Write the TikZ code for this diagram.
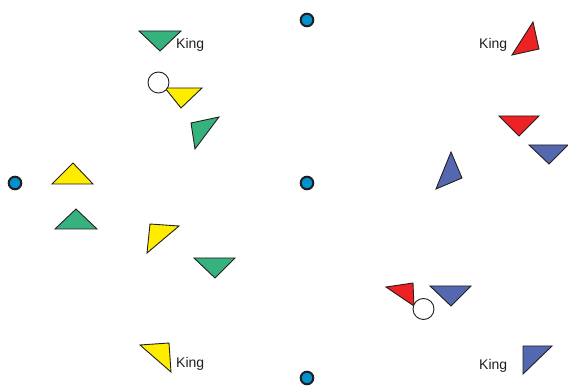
\documentclass[tikz,border=0pt]{standalone}
\usepackage{fontspec}
\setmainfont{Liberation Sans}
\definecolor{pgreen}{RGB}{53,178,126}
\definecolor{pyellow}{RGB}{255,237,0}
\definecolor{pred}{RGB}{237,34,36}
\definecolor{pblue}{RGB}{84,104,176}
\definecolor{dotblue}{RGB}{0,146,207}
\definecolor{ink}{RGB}{35,31,32}
\begin{document}
\begin{tikzpicture}[x=1pt, y=-1pt,
  piece/.style={draw=ink, line width=0.9pt, line join=miter},
  spot/.style={draw=ink, line width=2pt, fill=dotblue},
  hole/.style={draw=ink, line width=0.9pt, fill=white},
  kinglabel/.style={anchor=base west, inner sep=0pt, text=ink, font=\fontsize{14}{16}\selectfont}]
  \useasboundingbox (0,0) rectangle (568,387);
  % blue spots
  \draw[spot] (15,183) circle (6.3);
  \draw[spot] (307,20) circle (6.3);
  \draw[spot] (307,183) circle (6.3);
  \draw[spot] (307,378) circle (6.3);
  % green pieces
  \draw[piece, fill=pgreen] (139,31) -- (181,31) -- (160,51) -- cycle;
  \draw[piece, fill=pgreen] (191,123) -- (219,117) -- (195,149) -- cycle;
  \draw[piece, fill=pgreen] (55,229) -- (97,229) -- (76,209) -- cycle;
  \draw[piece, fill=pgreen] (194,258) -- (235,258) -- (215,278) -- cycle;
  % yellow pieces
  \draw[piece, fill=pyellow] (165,88) -- (202,88) -- (181,108) -- cycle;
  \draw[hole] (158.5,82.5) circle (10.5);
  \draw[piece, fill=pyellow] (52,184) -- (93,184) -- (73,163) -- cycle;
  \draw[piece, fill=pyellow] (150,224) -- (179,226) -- (147,253) -- cycle;
  \draw[piece, fill=pyellow] (140,345) -- (169,343) -- (171,372) -- cycle;
  % red pieces
  \draw[piece, fill=pred] (533,22) -- (539,49) -- (512,55) -- cycle;
  \draw[piece, fill=pred] (499,116) -- (539,116) -- (519,136) -- cycle;
  \draw[piece, fill=pred] (386,287) -- (413,283) -- (414,306) -- cycle;
  \draw[hole] (423.5,309) circle (10.5);
  % blue pieces
  \draw[piece, fill=pblue] (529,145) -- (568,145) -- (549,164) -- cycle;
  \draw[piece, fill=pblue] (451,152) -- (462,178) -- (436,189) -- cycle;
  \draw[piece, fill=pblue] (430,286) -- (471,286) -- (451,306) -- cycle;
  \draw[piece, fill=pblue] (523,346) -- (552,346) -- (523,374) -- cycle;
  % labels
  \node[kinglabel] (kgreen) at (176,49) {King};
  \node[kinglabel] (kred) at (479,49) {King};
  \node[kinglabel] (kyellow) at (176,368) {King};
  \node[kinglabel] (kblue) at (479,370) {King};
\end{tikzpicture}
\end{document}
